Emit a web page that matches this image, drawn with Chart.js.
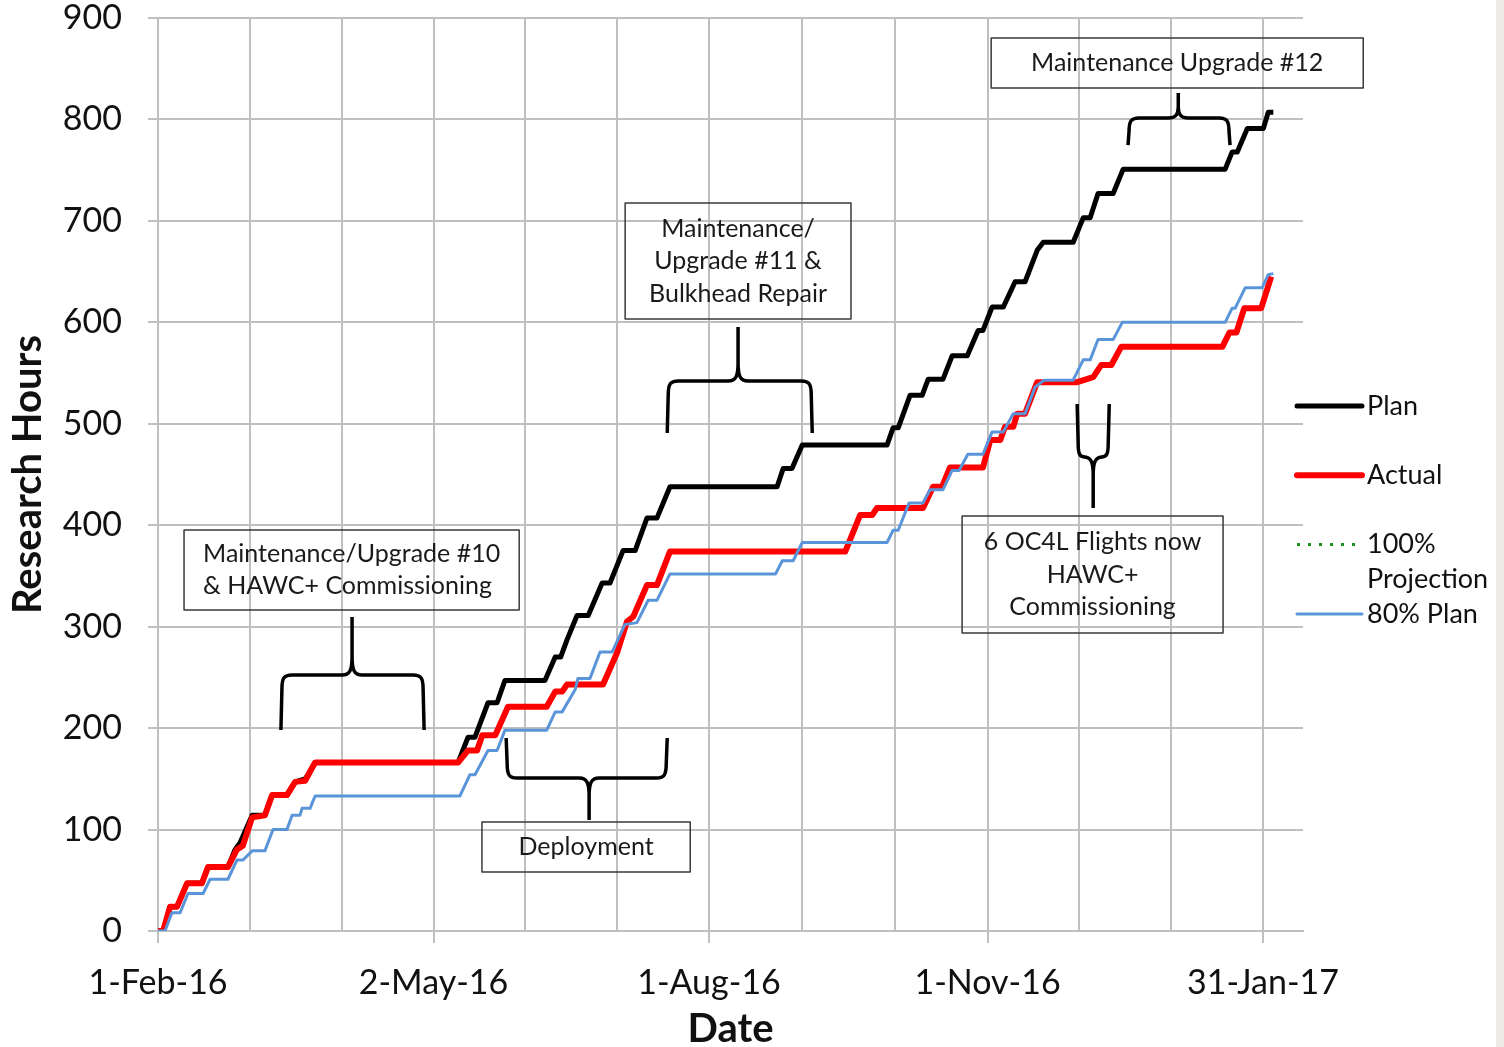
<!DOCTYPE html>
<html>
<head>
<meta charset="utf-8">
<script src="https://cdn.jsdelivr.net/npm/chart.js@4.4.1/dist/chart.umd.min.js"></script>
<style>
  html, body { margin: 0; padding: 0; background: #fff; }
  #wrap { width: 1504px; height: 1047px; }
</style>
</head>
<body>
<div id="wrap"><canvas id="chart" width="1504" height="1047"></canvas></div>
<script>
// ============================================
// Research hours: plan vs actual (FY2016)
// x = days since 1-Feb-16, y = research hours
// ============================================

const xTickDays = [0, 91, 182, 274, 365];
const xTickLabels = ['1-Feb-16', '2-May-16', '1-Aug-16', '1-Nov-16', '31-Jan-17'];
const xMaxDay = 378.2;
const yMax = 900;
const yStep = 100;

const seriesLabels = ['Plan', 'Actual', '100% Projection', '80% Plan'];

// [day, hours]
const planSteps = [
    [0,0],[1.7,0],[4.0,24],[6.3,24],[9.6,47],[14.5,47],[16.5,63],[23.1,63],[25.4,80],[27.1,87],
    [31.1,114],[35.3,114],[37.7,134],[42.6,134],[45.3,147],[48.6,150],[50.0,156],[51.9,166],
    [99.1,166],[102.4,191],[104.7,191],[109.0,225],[112.0,225],[114.6,247],[127.8,247],
    [131.2,270],[133.0,270],[135.1,287],[138.4,311],[142.1,311],[146.7,343],[149.3,343],
    [153.6,375],[157.6,375],[161.5,407],[164.8,407],[169.1,438],[204.5,438],[206.5,456],
    [209.4,456],[212.8,479],[240.8,479],[242.8,496],[244.5,496],[248.4,528],[252.4,528],
    [254.4,544],[259.3,544],[262.3,567],[267.3,567],[270.9,592],[272.5,592],[275.5,615],
    [279.2,615],[283.1,640],[286.4,640],[290.4,671],[292.4,679],[302.3,679],[305.6,703],
    [307.9,703],[310.5,727],[315.5,727],[318.8,751],[352.5,751],[354.8,768],[356.5,768],
    [359.8,791],[365.1,791],[366.7,807],[368.4,807]
];

const actualSteps = [
    [0,0],[1.7,0],[4.0,24],[6.3,24],[9.6,47],[14.5,47],[16.5,63],[23.1,63],[26.0,80],[28.0,84],
    [31.1,112],[35.3,114],[37.7,134],[42.6,134],[45.3,147],[48.6,148],[50.0,156],[51.9,166],
    [99.1,166],[102.4,178],[105.4,178],[107.1,193],[111.4,193],[115.6,221],[128.4,221],
    [131.2,236],[133.5,236],[135.1,243],[147.0,243],[151.6,274],[154.9,305],[157.0,310],
    [161.5,341],[164.8,341],[169.1,374],[227.0,374],[231.9,410],[235.9,410],[237.5,417],
    [252.7,417],[256.0,438],[259.0,438],[261.6,457],[272.5,457],[274.9,484],[278.2,484],
    [279.8,497],[282.5,497],[283.8,510],[286.4,510],[290.4,541],[303.6,541],[308.9,546],
    [311.6,558],[314.9,558],[318.2,576],[351.6,576],[353.9,590],[356.2,590],[358.8,614],
    [364.4,614],[367.7,645]
];

const projectionSteps = [];

const plan80Steps = [
    [0,0],[2.3,0],[4.6,18],[7.3,18],[9.9,37],[14.9,37],[17.2,51],[23.1,51],[26.1,70],[28.1,70],
    [31.1,79],[35.3,79],[38.0,100],[42.6,100],[44.3,114],[46.9,114],[47.6,121],[50.3,121],
    [50.9,126],[51.9,133],[99.7,133],[103.0,154],[104.7,154],[109.0,178],[112.0,178],
    [114.6,198],[128.4,198],[131.2,216],[133.5,216],[137.8,238],[138.7,249],[142.7,249],
    [146.0,275],[150.0,275],[154.2,302],[158.2,304],[161.9,326],[164.8,326],[169.1,352],
    [204.0,352],[206.2,365],[209.8,365],[212.8,383],[240.8,383],[242.8,395],[244.5,395],
    [248.1,422],[252.7,422],[255.0,435],[259.3,435],[262.3,454],[264.6,454],[267.5,470],
    [272.5,470],[275.5,492],[279.2,492],[282.5,510],[286.4,510],[289.7,536],[292.7,543],
    [302.3,543],[305.6,563],[307.9,563],[310.5,583],[315.5,583],[318.5,600],[352.5,600],
    [354.8,614],[355.8,614],[359.1,634],[364.7,634],[366.7,647],[368.4,648]
];

// Text boxes (data coords: left, top, right, bottom)
const noteBoxes = [
    { lines: ['Maintenance/Upgrade #10', '& HAWC+ Commissioning'], box: [8.6, 395.3, 119.3, 316.4], align: 'left' },
    { lines: ['Maintenance/', 'Upgrade #11 &', 'Bulkhead Repair'], box: [154.3, 717.7, 228.9, 603.3], align: 'center' },
    { lines: ['Deployment'], box: [107.0, 107.5, 175.8, 58.2], align: 'center' },
    { lines: ['6 OC4L Flights now', 'HAWC+', 'Commissioning'], box: [265.6, 409.1, 351.8, 293.8], align: 'center' },
    { lines: ['Maintenance Upgrade #12'], box: [275.2, 880.3, 398.1, 831.0], align: 'center' }
];

// Curly braces (data coords)
const braces = [
    { xL: 40.6, xR: 87.9, xC: 64.1, end: 198.1, bar: 252.4, tip: 309.5 },
    { xL: 168.2, xR: 216.1, xC: 191.6, end: 490.9, bar: 542.2, tip: 595.4 },
    { xL: 115.0, xR: 168.2, xC: 142.4, end: 190.3, bar: 150.8, tip: 109.4 },
    { xL: 303.6, xR: 314.2, xC: 308.9, end: 519.5, bar: 467.3, tip: 417.0 },
    { xL: 320.4, xR: 354.1, xC: 337.0, end: 774.8, bar: 801.5, tip: 826.1 }
];

const FONT = 'Lato, "Open Sans", "DejaVu Sans", sans-serif';
const GRID = '#bfbfbf';

const toXY = arr => arr.map(p => ({ x: p[0], y: p[1] }));

function drawBrace(ctx, xL, xR, xC, yEnd, yBar, yTip) {
    const s = Math.sign(yEnd - yBar);   // side of the ends
    const d = Math.sign(yTip - yBar);   // side of the tip
    const r = Math.min(11, Math.abs(xC - xL) * 0.5);
    const rv = Math.min(14, Math.abs(yEnd - yBar) * 0.6);
    const tr = Math.min(10, Math.abs(xC - xL) * 0.6);
    const tv = Math.min(18, Math.abs(yTip - yBar) * 0.5);
    ctx.beginPath();
    [[xL, 1], [xR, -1]].forEach(([xe, k]) => {
        ctx.moveTo(xe, yEnd);
        ctx.lineTo(xe + k * 1, yBar + s * rv);
        ctx.bezierCurveTo(xe + k * 1, yBar + s * rv * 0.2, xe + k * r * 0.3, yBar, xe + k * r, yBar);
        ctx.lineTo(xC - k * tr, yBar);
        ctx.bezierCurveTo(xC - k * tr * 0.2, yBar, xC, yBar + d * tv * 0.3, xC, yBar + d * tv);
        ctx.lineTo(xC, yTip);
    });
    ctx.stroke();
}

const notesPlugin = {
    id: 'notes',
    beforeDraw(chart) {
        const ctx = chart.ctx;
        ctx.save();
        ctx.fillStyle = '#ffffff';
        ctx.fillRect(0, 0, chart.width, chart.height);
        ctx.fillStyle = '#eeebe4';
        ctx.fillRect(1496, 0, chart.width - 1496, chart.height);
        ctx.restore();
    },
    afterDraw(chart) {
        const ctx = chart.ctx;
        const xs = chart.scales.x, ys = chart.scales.y;
        const px = v => xs.getPixelForValue(v);
        const py = v => ys.getPixelForValue(v);

        ctx.save();
        // braces
        ctx.strokeStyle = '#000';
        ctx.lineWidth = 3.5;
        ctx.lineCap = 'butt';
        ctx.lineJoin = 'round';
        braces.forEach(b => drawBrace(ctx, px(b.xL), px(b.xR), px(b.xC), py(b.end), py(b.bar), py(b.tip)));

        // boxes + text
        ctx.font = '25px ' + FONT;
        ctx.textBaseline = 'middle';
        ctx.fillStyle = '#1a1a1a';
        noteBoxes.forEach(n => {
            const l = px(n.box[0]), t = py(n.box[1]), r = px(n.box[2]), b = py(n.box[3]);
            ctx.strokeStyle = '#3a3a3a';
            ctx.lineWidth = 1.5;
            ctx.strokeRect(l, t, r - l, b - t);
            const lh = 32.5;
            const cy = (t + b) / 2 - (n.lines.length - 1) * lh / 2;
            const widest = Math.max(...n.lines.map(s => ctx.measureText(s).width));
            n.lines.forEach((s, i) => {
                if (n.align === 'left') {
                    ctx.textAlign = 'left';
                    ctx.fillText(s, (l + r) / 2 - widest / 2, cy + i * lh);
                } else {
                    ctx.textAlign = 'center';
                    ctx.fillText(s, (l + r) / 2, cy + i * lh);
                }
            });
        });

        // legend (right side)
        const x0 = 1297, x1 = 1362, tx = 1367;
        ctx.font = '27px ' + FONT;
        ctx.textAlign = 'left';
        chart.data.datasets.forEach((ds, i) => {
            const y = 406 + i * 69.3;
            ctx.strokeStyle = ds.borderColor;
            ctx.lineWidth = ds.borderWidth;
            ctx.setLineDash(ds.borderDash || []);
            ctx.lineCap = ds.borderDash ? 'butt' : 'round';
            ctx.beginPath();
            ctx.moveTo(x0, y);
            ctx.lineTo(ds.borderDash ? x1 - 6 : x1, y);
            ctx.stroke();
            ctx.setLineDash([]);
            ctx.fillStyle = '#111';
            // wrap long labels
            const words = ds.label.split(' ');
            const lines = [];
            let cur = '';
            words.forEach(w => {
                const test = cur ? cur + ' ' + w : w;
                if (ctx.measureText(test).width > 1494 - tx && cur) { lines.push(cur); cur = w; }
                else cur = test;
            });
            lines.push(cur);
            lines.forEach((s, k) => ctx.fillText(s, tx, y + k * 35));
        });
        ctx.restore();
    }
};

const majorTick = v => xTickDays.some(d => Math.abs(d - v) < 0.01);

new Chart(document.getElementById('chart'), {
    type: 'line',
    data: {
        datasets: [
            { label: seriesLabels[0], data: toXY(planSteps), borderColor: '#000000', borderWidth: 5, order: 3 },
            { label: seriesLabels[1], data: toXY(actualSteps), borderColor: '#ff0000', borderWidth: 6, order: 2 },
            { label: seriesLabels[2], data: toXY(projectionSteps), borderColor: '#1a8f1a', borderWidth: 3, borderDash: [3, 8], order: 1 },
            { label: seriesLabels[3], data: toXY(plan80Steps), borderColor: '#5b95d9', borderWidth: 3, order: 0 }
        ]
    },
    options: {
        responsive: false,
        animation: false,
        parsing: false,
        layout: { padding: { left: 0, right: 201, top: 18, bottom: 0 } },
        elements: {
            point: { radius: 0 },
            line: { tension: 0, borderJoinStyle: 'round', borderCapStyle: 'butt', fill: false }
        },
        plugins: {
            legend: { display: false },
            tooltip: { enabled: false }
        },
        scales: {
            x: {
                type: 'linear',
                min: 0,
                max: xMaxDay,
                afterBuildTicks: scale => {
                    const vals = [];
                    for (let i = 0; i < xTickDays.length - 1; i++) {
                        const a = xTickDays[i], b = xTickDays[i + 1];
                        vals.push(a, a + (b - a) / 3, a + 2 * (b - a) / 3);
                    }
                    vals.push(xTickDays[xTickDays.length - 1]);
                    scale.ticks = vals.map(v => ({ value: v }));
                },
                afterFit: scale => {
                    scale.height = 116;
                    scale.paddingLeft = 0;
                    scale.paddingRight = 0;
                },
                ticks: {
                    autoSkip: false,
                    maxRotation: 0,
                    padding: 20,
                    color: '#111',
                    font: { family: FONT, size: 34 },
                    callback: v => {
                        const i = xTickDays.findIndex(d => Math.abs(d - v) < 0.01);
                        return i >= 0 ? xTickLabels[i] : '';
                    }
                },
                grid: {
                    color: GRID,
                    lineWidth: 2,
                    tickLength: 12,
                    tickColor: ctx => (ctx.tick && majorTick(ctx.tick.value)) ? GRID : 'rgba(0,0,0,0)'
                },
                border: { color: GRID, width: 2 },
                title: {
                    display: true,
                    text: 'Date',
                    color: '#111',
                    font: { family: FONT, size: 40, weight: 'bold', lineHeight: 0.9 },
                    padding: { top: 0, bottom: 0 }
                }
            },
            y: {
                min: 0,
                max: yMax,
                afterFit: scale => {
                    scale.width = 158;
                    scale.paddingTop = 0;
                    scale.paddingBottom = 0;
                },
                ticks: {
                    stepSize: yStep,
                    padding: 26,
                    color: '#111',
                    font: { family: FONT, size: 34 }
                },
                grid: { color: GRID, lineWidth: 2, tickLength: 10, tickColor: GRID },
                border: { color: GRID, width: 2 },
                title: {
                    display: true,
                    text: 'Research Hours',
                    color: '#111',
                    font: { family: FONT, size: 40, weight: 'bold', lineHeight: 0.9 },
                    padding: { top: 10, bottom: 0 }
                }
            }
        }
    },
    plugins: [notesPlugin]
});
</script>
</body>
</html>
